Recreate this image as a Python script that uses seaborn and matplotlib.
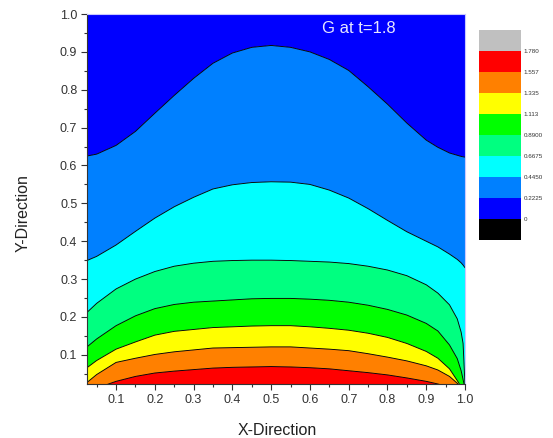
import numpy as np
import pandas as pd
import matplotlib
matplotlib.use("Agg")
import matplotlib.pyplot as plt
import seaborn as sns

# ---- data (height y of each contour line at each x) ----
xs = [0.025, 0.05, 0.1, 0.15, 0.2, 0.25, 0.3, 0.35, 0.4, 0.45, 0.5, 0.55, 0.6,
      0.65, 0.7, 0.75, 0.8, 0.85, 0.9, 0.93, 0.96, 0.98, 0.99, 0.995, 1.0]

y_02225 = [0.625, 0.630, 0.653, 0.690, 0.738, 0.785, 0.830, 0.870, 0.897, 0.912, 0.917, 0.912, 0.900,
           0.880, 0.851, 0.808, 0.762, 0.712, 0.667, 0.648, 0.633, 0.627, 0.624, 0.623, 0.622]
y_04450 = [0.349, 0.360, 0.390, 0.426, 0.461, 0.491, 0.516, 0.538, 0.549, 0.555, 0.557, 0.556, 0.550,
           0.535, 0.514, 0.486, 0.455, 0.425, 0.400, 0.385, 0.366, 0.352, 0.343, 0.337, 0.330]
y_06675 = [0.212, 0.236, 0.274, 0.300, 0.320, 0.334, 0.342, 0.347, 0.349, 0.350, 0.350, 0.349, 0.347,
           0.345, 0.341, 0.334, 0.324, 0.309, 0.285, 0.263, 0.232, 0.195, 0.160, 0.130, 0.020]
y_08900 = [0.121, 0.142, 0.177, 0.203, 0.222, 0.233, 0.239, 0.242, 0.245, 0.248, 0.249, 0.249, 0.247,
           0.244, 0.239, 0.231, 0.220, 0.205, 0.183, 0.163, 0.126, 0.090, 0.058, 0.035, 0.010]
y_1113 = [0.066, 0.085, 0.115, 0.134, 0.152, 0.162, 0.167, 0.172, 0.174, 0.176, 0.177, 0.177, 0.174,
          0.170, 0.165, 0.157, 0.146, 0.130, 0.109, 0.091, 0.063, 0.032, 0.015, 0.008, 0.005]
y_1335 = [0.027, 0.048, 0.080, 0.091, 0.101, 0.108, 0.113, 0.118, 0.119, 0.120, 0.121, 0.121, 0.118,
          0.115, 0.111, 0.103, 0.094, 0.084, 0.071, 0.060, 0.043, 0.025, 0.012, 0.006, 0.003]
y_1557 = [0.005, 0.012, 0.030, 0.043, 0.052, 0.057, 0.061, 0.065, 0.067, 0.068, 0.069, 0.068, 0.066,
          0.063, 0.058, 0.053, 0.047, 0.039, 0.030, 0.023, 0.014, 0.007, 0.004, 0.002, 0.001]

g_floor = 1.70      # G at y = 0 (bottom boundary)
g_top = 0.10        # G at y = 1 (top boundary)
y_bottom, y_top = 0.0, 1.0

levels = [0, 0.2225, 0.445, 0.6675, 0.89, 1.113, 1.335, 1.557, 1.78]
level_labels = ["0", "0.2225", "0.4450", "0.6675", "0.8900", "1.113", "1.335", "1.557", "1.780"]
band_colors = ["#000000", "#0000FF", "#0080FF", "#00FFFF", "#00FF80",
               "#00FF00", "#FFFF00", "#FF8000", "#FF0000", "#C0C0C0"]
title_text = "G at t=1.8"
x_label = "X-Direction"
y_label = "Y-Direction"

# ---- build curvilinear mesh: each row is one contour line ----
line_heights = [y_1557, y_1335, y_1113, y_08900, y_06675, y_04450, y_02225]
line_levels = [1.557, 1.335, 1.113, 0.89, 0.6675, 0.445, 0.2225]
n = len(xs)
Y = np.vstack([np.full(n, y_bottom)] + [np.array(r) for r in line_heights] + [np.full(n, y_top)])
Zcol = [g_floor] + line_levels + [g_top]
Z = np.repeat(np.array(Zcol)[:, None], n, axis=1)
X = np.tile(np.array(xs), (Y.shape[0], 1))

sns.set_theme(style="ticks")
plt.rcParams["font.family"] = ["Liberation Sans", "DejaVu Sans"]

fig = plt.figure(figsize=(5.53, 4.38), dpi=100)
ax = fig.add_axes([0.1573, 0.1233, 0.6836, 0.8447])

step = levels[1] - levels[0]
bounds = [levels[0] - step] + levels + [levels[-1] + step]
cf = ax.contourf(X, Y, Z, levels=bounds, colors=band_colors, antialiased=True)

# contour lines
df = pd.DataFrame({
    "x": np.tile(xs, len(line_levels)),
    "y": np.concatenate([np.array(r) for r in line_heights]),
    "level": np.repeat(line_levels, n),
})
sns.lineplot(data=df, x="x", y="y", hue="level", palette={l: "black" for l in line_levels},
             estimator=None, sort=False, linewidth=0.65, legend=False, ax=ax)

ax.set_xlim(0.025, 1.0)
ax.set_ylim(0.023, 1.0)
ax.set_xticks(np.arange(1, 11) / 10)
ax.set_yticks(np.arange(1, 11) / 10)
ax.set_xticks(np.arange(1, 20) / 20, minor=True)
ax.set_yticks(np.arange(1, 20) / 20, minor=True)
ax.set_xticklabels([f"{v:.1f}" for v in np.arange(1, 11) / 10])
ax.set_yticklabels([f"{v:.1f}" for v in np.arange(1, 11) / 10])
ax.tick_params(which="major", direction="out", length=4, width=0.8, color="#333333",
               labelsize=9, labelcolor="#333333", pad=3)
ax.tick_params(which="minor", direction="out", length=2.5, width=0.8, color="#333333")
for s in ["left", "bottom"]:
    ax.spines[s].set_color("#333333")
    ax.spines[s].set_linewidth(0.8)
for s in ["top", "right"]:
    ax.spines[s].set_color("#c8c8ff")
    ax.spines[s].set_linewidth(0.8)

ax.set_xlabel(x_label, fontsize=11.5, color="#222222")
ax.set_ylabel(y_label, fontsize=11.5, color="#222222")
ax.xaxis.set_label_coords(0.503, -0.105)
ax.yaxis.set_label_coords(-0.150, 0.462)

ax.text(0.72, 0.962, title_text, transform=ax.transAxes, ha="center", va="center",
        fontsize=12, color="#e6e6ff")

# colour scale box
cax = fig.add_axes([0.866, 0.452, 0.076, 0.479])
cb = fig.colorbar(cf, cax=cax, ticks=levels)
cb.ax.set_yticklabels(level_labels)
cb.outline.set_visible(False)
cax.tick_params(length=0, labelsize=4.5, labelcolor="#333333", pad=2)

fig.savefig("out.png", dpi=100)
